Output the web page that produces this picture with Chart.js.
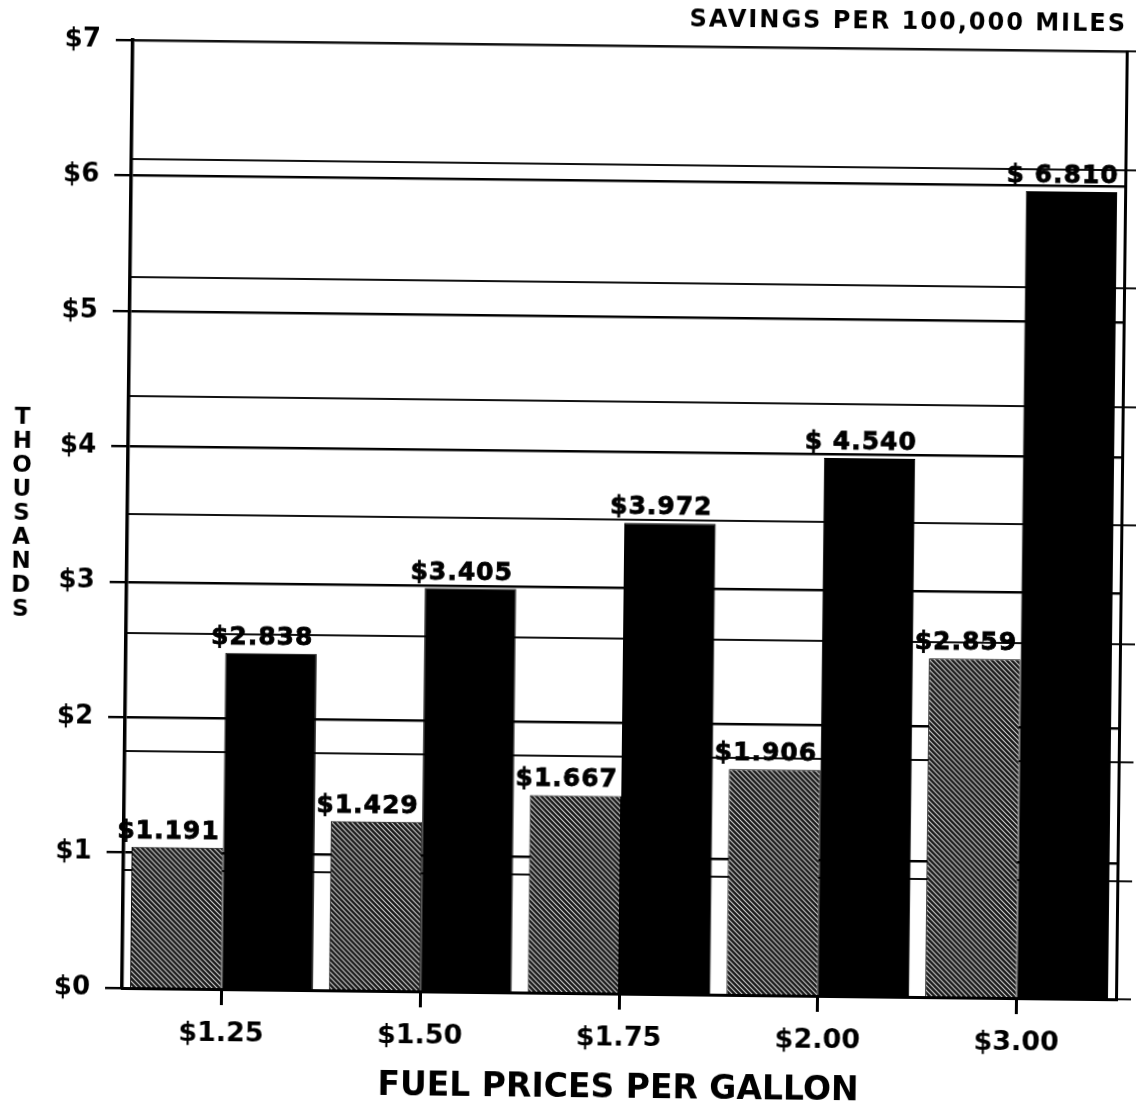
<!DOCTYPE html>
<html>
<head>
<meta charset="utf-8">
<script src="https://cdn.jsdelivr.net/npm/chart.js@4.4.1/dist/chart.umd.min.js"></script>
<style>
html, body { margin: 0; padding: 0; background: #fff; overflow: hidden; }
/* the scanned page sits a little crooked */
#savingsChart { display: block; transform: rotate(0.65deg); }
</style>
</head>
<body>
<canvas id="savingsChart" width="1136" height="1111"></canvas>
<script>

// DATA ######################################################################

var fuelPrices = ["$1.25", "$1.50", "$1.75", "$2.00", "$3.00"];
var graySavings = [1.191, 1.429, 1.667, 1.906, 2.859];
var blackSavings = [2.838, 3.405, 3.972, 4.540, 6.810];
var blackPrefix = ["$", "$", "$", "$ ", "$ "];
var leftAxisMax = 7;   // printed scale, $ thousands
var barAxisMax = 8;    // scale the bars were plotted on

var boldFont = '"DejaVu Sans", "Liberation Sans", sans-serif';


// HATCH PATTERN ##############################################################

function makeHatch() {
    var c = document.createElement("canvas");
    c.width = 5;
    c.height = 5;
    var g = c.getContext("2d");
    g.fillStyle = "#1a1a1a";
    g.fillRect(0, 0, 5, 5);
    g.strokeStyle = "#d0d0d0";
    g.lineWidth = 1.1;
    g.beginPath();
    g.moveTo(-1, -1); g.lineTo(6, 6);
    g.moveTo(-1, 4); g.lineTo(1, 6);
    g.moveTo(4, -1); g.lineTo(6, 1);
    g.stroke();
    return g.createPattern(c, "repeat");
}


// LABELS & TITLES ############################################################

var annotate = {
    id: "annotate",
    afterDatasetsDraw: function (chart) {
        var ctx = chart.ctx;
        ctx.save();
        ctx.fillStyle = "#000";
        ctx.strokeStyle = "#000";
        ctx.lineWidth = 0.8;

        // value over each bar
        ctx.font = "bold 25px " + boldFont;
        ctx.letterSpacing = "1px";
        ctx.textAlign = "center";
        ctx.textBaseline = "alphabetic";
        chart.getDatasetMeta(0).data.forEach(function (bar, i) {
            var t = "$" + graySavings[i].toFixed(3);
            ctx.fillText(t, bar.x - 9, bar.y - 9);
            ctx.strokeText(t, bar.x - 9, bar.y - 9);
        });
        chart.getDatasetMeta(1).data.forEach(function (bar, i) {
            var t = blackPrefix[i] + blackSavings[i].toFixed(3);
            ctx.fillText(t, bar.x - 9, bar.y - 9);
            ctx.strokeText(t, bar.x - 9, bar.y - 9);
        });

        // heading top right
        ctx.font = "bold 24px " + boldFont;
        ctx.letterSpacing = "2px";
        ctx.textAlign = "right";
        ctx.textBaseline = "middle";
        ctx.fillText("SAVINGS PER 100,000 MILES", 1121, 19);

        // stacked y title
        ctx.font = "bold 23px " + boldFont;
        ctx.letterSpacing = "0px";
        ctx.textAlign = "center";
        var word = "THOUSANDS";
        for (var k = 0; k < word.length; k++) {
            ctx.fillText(word[k], 21, 424 + k * 24);
        }
        ctx.restore();
    }
};


// BAR CHART ##################################################################

var ctx_bar = document.getElementById("savingsChart");
var hatch = makeHatch();

var data = {
    labels: fuelPrices,
    datasets: [
        {
            label: "Savings A",
            data: graySavings,
            yAxisID: "y2",
            backgroundColor: hatch,
            borderColor: "#000",
            borderWidth: 1,
            barPercentage: 1.0,
            categoryPercentage: 0.92
        },
        {
            label: "Savings B",
            data: blackSavings,
            yAxisID: "y2",
            backgroundColor: "#000",
            borderColor: "#000",
            borderWidth: 1,
            barPercentage: 1.0,
            categoryPercentage: 0.92
        }
    ]
};

var myBarChart = new Chart(ctx_bar, {
    type: "bar",
    data: data,
    plugins: [annotate],
    options: {
        responsive: false,
        animation: false,
        layout: { padding: { top: 45, left: 0, right: 0, bottom: 0 } },
        plugins: {
            legend: { display: false },
            tooltip: { enabled: false }
        },
        scales: {
            x: {
                grid: {
                    offset: false,
                    drawOnChartArea: false,
                    drawTicks: true,
                    tickLength: 16,
                    color: "#000",
                    lineWidth: 3
                },
                border: { color: "#000", width: 3 },
                ticks: {
                    color: "#000",
                    padding: 13,
                    maxRotation: 0,
                    font: { family: boldFont, weight: "bold", size: 27 }
                },
                title: {
                    display: true,
                    text: "FUEL PRICES PER GALLON",
                    color: "#000",
                    padding: { top: 0, bottom: 3 },
                    font: { family: boldFont, weight: "bold", size: 33 }
                },
                afterFit: function (scale) { scale.height = 118; }
            },
            y: {
                position: "left",
                min: 0,
                max: leftAxisMax,
                ticks: {
                    stepSize: 1,
                    color: "#000",
                    padding: 15,
                    font: { family: boldFont, weight: "bold", size: 26 },
                    callback: function (v) { return "$" + v; }
                },
                grid: { color: "#000", lineWidth: 2.4, tickLength: 17 },
                border: { color: "#000", width: 3.5 },
                afterFit: function (scale) { scale.width = 127; }
            },
            y2: {
                position: "right",
                min: 0,
                max: barAxisMax,
                ticks: {
                    stepSize: 1,
                    callback: function () { return ""; }
                },
                grid: { color: "#111", lineWidth: 2, tickLength: 15 },
                border: { color: "#000", width: 3 },
                afterFit: function (scale) { scale.width = 15; }
            }
        }
    }
});
</script>
</body>
</html>
